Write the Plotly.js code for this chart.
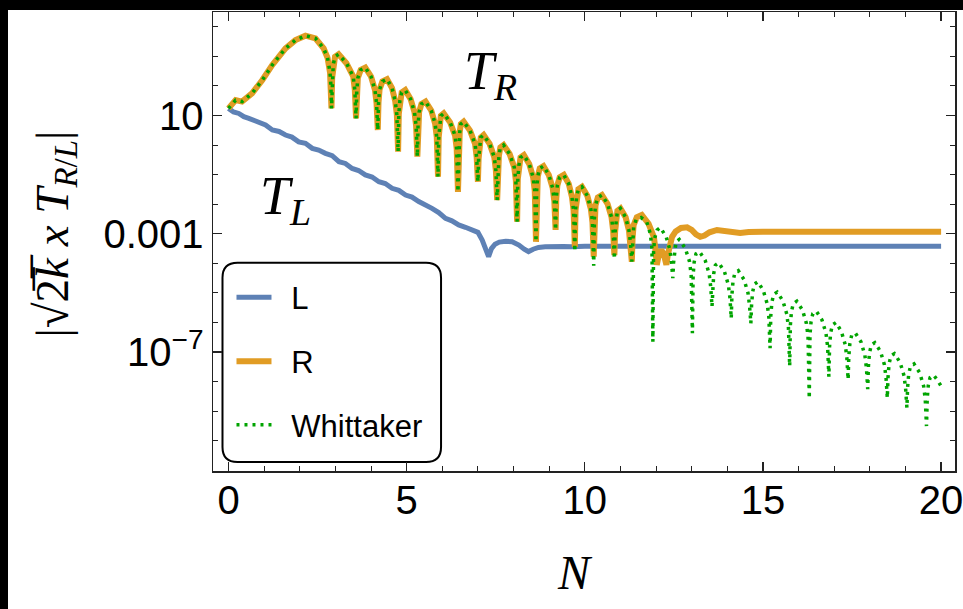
<!DOCTYPE html>
<html>
<head>
<meta charset="utf-8">
<script src="https://cdn.plot.ly/plotly-3.0.1.min.js"></script>
<style>
  html, body { margin: 0; padding: 0; background: #000; width: 963px; height: 609px; overflow: hidden; }
  #chart { position: absolute; left: 8px; top: 10px; width: 955px; height: 599px; background: #fff; }
</style>
</head>
<body>
<div id="chart"></div>
<script>
// ---- data (N and log10 of |sqrt(2k) x T|) ----
const commonN = [0, 0.2, 0.38, 0.66, 0.95, 1.23, 1.6, 1.88, 2.16, 2.44, 2.67, 2.78, 2.85, 2.875, 2.89,
  2.91, 2.94, 2.99, 3.09, 3.31, 3.50, 3.545, 3.58,
  3.60, 3.63, 3.71, 3.84, 4.00, 4.11, 4.155, 4.19,
  4.21, 4.24, 4.32, 4.45, 4.59, 4.68, 4.725, 4.76,
  4.78, 4.81, 4.86, 4.96, 5.11, 5.22, 5.265, 5.30,
  5.32, 5.35, 5.415, 5.53, 5.69, 5.80, 5.845, 5.88,
  5.90, 5.93, 5.96, 6.04, 6.22, 6.36, 6.405, 6.44,
  6.46, 6.49, 6.52, 6.60, 6.78, 6.92, 6.965, 7.00,
  7.02, 7.05, 7.08, 7.16, 7.33, 7.46, 7.505, 7.54,
  7.56, 7.59, 7.63, 7.72, 7.89, 8.02, 8.065, 8.10,
  8.12, 8.15, 8.195, 8.29, 8.44, 8.55, 8.595, 8.63,
  8.65, 8.68, 8.735, 8.84, 8.99, 9.10, 9.145, 9.18,
  9.20, 9.23, 9.295, 9.41];
const commonLog = [1.24, 1.52, 1.47, 1.75, 2.20, 2.71, 3.27, 3.55, 3.70, 3.61, 3.27, 2.95, 2.45, 2.0, 1.24,
  2.27, 2.72, 2.99, 3.07, 2.77, 2.32, 1.87, 0.90,
  1.82, 2.27, 2.54, 2.62, 2.32, 1.87, 1.42, 0.51,
  1.43, 1.88, 2.15, 2.23, 1.93, 1.48, 1.03, -0.22,
  1.06, 1.51, 1.78, 1.86, 1.56, 1.11, 0.66, -0.39,
  0.67, 1.12, 1.39, 1.47, 1.17, 0.72, 0.27, -1.07,
  0.27, 0.72, 0.99, 1.07, 0.77, 0.32, -0.13, -1.58,
  -0.01, 0.44, 0.71, 0.79, 0.49, 0.04, -0.41, -1.24,
  -0.46, -0.01, 0.26, 0.34, 0.04, -0.41, -0.86, -1.86,
  -0.8, -0.35, -0.08, 0.0, -0.3, -0.75, -1.2, -2.59,
  -1.14, -0.69, -0.42, -0.34, -0.64, -1.09, -1.54, -3.27,
  -1.51, -1.06, -0.79, -0.71, -1.01, -1.46, -1.91, -2.87,
  -1.81, -1.36, -1.09, -1.01];

const rTailN = [9.55, 9.64, 9.685, 9.72, 9.74, 9.77, 9.82, 9.92, 10.07, 10.17, 10.215, 10.25,
  10.27, 10.30, 10.365, 10.48, 10.64, 10.75, 10.795, 10.83, 10.85, 10.88, 10.915, 11.0, 11.145, 11.24, 11.285, 11.32,
  11.34, 11.37, 11.46, 11.60, 11.79, 11.94, 11.985, 12.02, 12.08, 12.15, 12.22, 12.29,
  12.33, 12.38, 12.45, 12.55, 12.7, 12.87, 13.0, 13.12, 13.24, 13.36, 13.5, 13.71, 13.9, 14.1, 14.36, 14.6, 15.0, 20];
const rTailLog = [-1.31, -1.76, -2.21, -3.44, -2.21, -1.76, -1.49, -1.41, -1.71, -2.16, -2.61, -3.77,
  -2.49, -2.04, -1.77, -1.69, -1.99, -2.44, -2.89, -3.72, -2.94, -2.49, -2.22, -2.14, -2.44, -2.89, -3.34, -3.94,
  -3.16, -2.71, -2.44, -2.36, -2.66, -3.11, -3.56, -4.05, -3.7, -3.55, -3.7, -4.05,
  -3.7, -3.35, -3.10, -2.92, -2.80, -2.78, -2.87, -3.02, -3.10, -3.06, -2.95, -2.87, -2.90, -2.95, -2.97, -2.94, -2.93, -2.93];

const wTailN = [9.55, 9.64, 9.685, 9.72,
  9.74, 9.77, 9.82, 9.92, 10.07, 10.17, 10.215, 10.25,
  10.27, 10.30, 10.365, 10.48, 10.64, 10.75, 10.795, 10.83,
  10.85, 10.88, 10.915, 11.0, 11.145, 11.24, 11.285, 11.32,
  11.34, 11.37, 11.44, 11.58, 11.74, 11.84, 11.885, 11.91,
  11.93, 11.96, 12.03, 12.12, 12.28, 12.39, 12.435, 12.47,
  12.49, 12.52, 12.56, 12.65, 12.82, 12.94, 12.985, 13.02,
  13.04, 13.07, 13.12, 13.22, 13.38, 13.49, 13.535, 13.57,
  13.59, 13.62, 13.665, 13.76, 13.92, 14.03, 14.075, 14.11,
  14.13, 14.16, 14.21, 14.31, 14.47, 14.58, 14.625, 14.66,
  14.68, 14.71, 14.76, 14.86, 15.01, 15.12, 15.165, 15.20,
  15.22, 15.25, 15.30, 15.40, 15.56, 15.67, 15.715, 15.75,
  15.77, 15.80, 15.85, 15.95, 16.11, 16.22, 16.265, 16.30,
  16.32, 16.35, 16.40, 16.50, 16.66, 16.77, 16.815, 16.85,
  16.87, 16.90, 16.95, 17.05, 17.20, 17.31, 17.355, 17.39,
  17.41, 17.44, 17.49, 17.59, 17.75, 17.86, 17.905, 17.94,
  17.96, 17.99, 18.04, 18.14, 18.30, 18.41, 18.455, 18.49,
  18.51, 18.54, 18.59, 18.69, 18.85, 18.96, 19.005, 19.04,
  19.06, 19.09, 19.14, 19.24, 19.40, 19.51, 19.555, 19.59,
  19.61, 19.64, 19.69, 19.79, 19.9, 20.0];
const wTailLog = [-1.31, -1.76, -2.21, -3.6,
  -2.21, -1.76, -1.49, -1.41, -1.71, -2.16, -2.61, -4.08,
  -2.49, -2.04, -1.77, -1.69, -1.99, -2.44, -2.89, -3.85,
  -2.94, -2.49, -2.22, -2.14, -2.44, -2.89, -3.34, -3.94,
  -3.2, -2.78, -2.52, -2.45, -2.60, -3.0, -3.5, -6.65,
  -3.6, -3.15, -2.87, -2.79, -3.09, -3.54, -3.99, -4.50,
  -3.99, -3.54, -3.27, -3.19, -3.49, -3.94, -4.39, -6.36,
  -4.40, -3.95, -3.68, -3.60, -3.90, -4.35, -4.80, -5.46,
  -4.78, -4.33, -4.06, -3.98, -4.28, -4.73, -5.18, -5.86,
  -5.05, -4.60, -4.33, -4.25, -4.55, -5.00, -5.45, -6.03,
  -5.42, -4.97, -4.70, -4.62, -4.92, -5.37, -5.82, -6.87,
  -5.77, -5.32, -5.05, -4.97, -5.27, -5.72, -6.17, -7.47,
  -6.08, -5.63, -5.36, -5.28, -5.58, -6.03, -6.48, -8.57,
  -6.42, -5.97, -5.70, -5.62, -5.92, -6.37, -6.82, -7.83,
  -6.80, -6.35, -6.08, -6.00, -6.30, -6.75, -7.20, -7.93,
  -7.15, -6.70, -6.43, -6.35, -6.65, -7.10, -7.55, -8.25,
  -7.48, -7.03, -6.76, -6.68, -6.98, -7.43, -7.88, -8.55,
  -7.85, -7.40, -7.13, -7.05, -7.35, -7.80, -8.25, -8.88,
  -8.20, -7.75, -7.48, -7.40, -7.70, -8.15, -8.60, -9.50,
  -8.58, -8.13, -7.86, -7.78, -7.95, -8.15];

const lN = [0, 0.14, 0.29, 0.43, 0.57, 0.71, 0.85, 1.04, 1.23, 1.42, 1.6, 1.78, 1.97, 2.16, 2.35, 2.53, 2.72, 2.91, 3.1, 3.28,
  3.47, 3.65, 3.84, 4.03, 4.22, 4.4, 4.59, 4.78, 4.97, 5.15, 5.34, 5.52, 5.71, 5.9, 6.09, 6.27, 6.46, 6.65, 6.84, 7.0,
  7.12, 7.22, 7.30, 7.38, 7.48, 7.6, 7.78, 7.96, 8.15, 8.3, 8.42, 8.55, 8.7, 8.89, 9.1, 9.4, 9.64, 10.0, 20];
const lLog = [1.24, 1.12, 1.07, 0.96, 0.905, 0.84, 0.74, 0.68, 0.51, 0.46, 0.34, 0.27, 0.11, 0.06, -0.11, -0.17, -0.28, -0.36, -0.56, -0.62,
  -0.79, -0.86, -1.01, -1.08, -1.24, -1.30, -1.46, -1.53, -1.69, -1.76, -1.91, -2.0, -2.14, -2.28, -2.48, -2.56, -2.70, -2.78, -2.87, -2.95,
  -3.21, -3.5, -3.77, -3.5, -3.35, -3.28, -3.25, -3.27, -3.38, -3.52, -3.60, -3.52, -3.46, -3.44, -3.42, -3.43, -3.44, -3.42, -3.42];

const seriesNames = ['L', 'R', 'Whittaker'];
const xTickVals = [0, 5, 10, 15, 20];
const xTickText = ['0', '5', '10', '15', '20'];
const xMinorVals = [0,1,2,3,4,5,6,7,8,9,10,11,12,13,14,15,16,17,18,19,20];
const yTickVals = [10, 0.001, 1e-7];
const yTickText = ['10', '0.001', '10<sup>\u22127</sup>'];
const yMinorVals = [1e4,1e3,1e2,1e1,1,1e-1,1e-2,1e-3,1e-4,1e-5,1e-6,1e-7,1e-8,1e-9,1e-10];

// ---- build traces ----
const toVal = a => a.map(v => Math.pow(10, v));
const rN = commonN.concat(rTailN), rV = toVal(commonLog.concat(rTailLog));
const wN = commonN.concat(wTailN), wV = toVal(commonLog.concat(wTailLog));
const lV = toVal(lLog);

const pad = '\u00A0\u2009';
const traces = [
  {x: lN, y: lV, mode: 'lines', name: pad + seriesNames[0], legend: 'legend',
   line: {color: '#5E81B5', width: 5}},
  {x: rN, y: rV, mode: 'lines', name: pad + seriesNames[1], legend: 'legend2',
   line: {color: '#E19C24', width: 6}},
  {x: wN, y: wV, mode: 'lines', name: pad + seriesNames[2], legend: 'legend3',
   line: {color: '#00A400', width: 3.5, dash: '3px,5px'}}
];

const PW = 742.5, PH = 459; // plot size in px
const px = v => (v - 212.5) / PW;       // page x -> paper
const py = v => (471 - v) / PH;         // page y -> paper

const legFont = {family: 'Liberation Sans, Arial, sans-serif', size: 31, color: '#000'};
const legBase = {xanchor: 'left', yanchor: 'middle', bgcolor: 'rgba(0,0,0,0)', borderwidth: 0, font: legFont, itemwidth: 35};

// rounded legend frame
const bx0 = px(222), bx1 = px(440.7), by0 = py(462), by1 = py(262.7);
const rx = 15 / PW, ry = 15 / PH;
const framePath = `M${bx0+rx},${by0} L${bx1-rx},${by0} Q${bx1},${by0} ${bx1},${by0+ry} L${bx1},${by1-ry} Q${bx1},${by1} ${bx1-rx},${by1} L${bx0+rx},${by1} Q${bx0},${by1} ${bx0},${by1-ry} L${bx0},${by0+ry} Q${bx0},${by0} ${bx0+rx},${by0} Z`;

const xTickFont = {family: 'Liberation Sans, Arial, sans-serif', size: 40, color: '#000'};
const yTickFont = {family: 'Liberation Sans, Arial, sans-serif', size: 40, color: '#000'};
const serif = 'Liberation Serif, Times New Roman, serif';
const ann = (x, y, text, size, extra) => Object.assign({xref: 'paper', yref: 'paper', x: px(x), y: py(y),
  xanchor: 'center', yanchor: 'middle', showarrow: false, text: text,
  font: {family: serif, size: size, color: '#000'}}, extra || {});

const layout = {
  width: 955, height: 599,
  margin: {l: 204.5, r: 8, t: 2, b: 138},
  paper_bgcolor: '#fff', plot_bgcolor: '#fff',
  showlegend: true,
  xaxis: {
    range: [-0.435, 20.39], showgrid: false, zeroline: false,
    showline: true, linecolor: '#222', linewidth: 1.5, mirror: 'ticks',
    ticks: 'inside', ticklen: 9, tickwidth: 1.3, tickcolor: '#222',
    tickmode: 'array', tickvals: xTickVals, ticktext: xTickText, tickfont: xTickFont,
    ticklabelstandoff: -7, ticklabeloverflow: 'allow',
    minor: {tickmode: 'array', tickvals: xMinorVals, ticks: 'inside', ticklen: 5, tickwidth: 1, tickcolor: '#222', showgrid: false}
  },
  yaxis: {
    type: 'log', range: [-11.02, 4.50], showgrid: false, zeroline: false,
    showline: true, linecolor: '#222', linewidth: 1.5, mirror: 'ticks',
    ticks: 'inside', ticklen: 9, tickwidth: 1.3, tickcolor: '#222',
    tickmode: 'array', tickvals: yTickVals, ticktext: yTickText, tickfont: yTickFont,
    ticklabeloverflow: 'allow',
    minor: {tickmode: 'array', tickvals: yMinorVals, ticks: 'inside', ticklen: 5, tickwidth: 1, tickcolor: '#222', showgrid: false}
  },
  legend: Object.assign({x: px(231), y: py(297.7)}, legBase),
  legend2: Object.assign({x: px(231), y: py(361.7)}, legBase),
  legend3: Object.assign({x: px(231), y: py(425)}, legBase),
  shapes: [{type: 'path', xref: 'paper', yref: 'paper', path: framePath,
            line: {color: '#000', width: 2}, fillcolor: '#fff', layer: 'below'}],
  annotations: [
    ann(490, 75, '<i>T</i><sub><i>R</i></sub>', 54),
    ann(285, 200, '<i>T</i><sub><i>L</i></sub>', 54),
    ann(575, 572, '<i>N</i>', 48),
    ann(55, 234, '|\u221A2\u0305<i>k\u0305</i> <i>x</i> <i>T</i><sub><i>R</i>/<i>L</i></sub>|', 47, {textangle: -90})
  ]
};

Plotly.newPlot('chart', traces, layout, {staticPlot: true, displayModeBar: false});
</script>
</body>
</html>
